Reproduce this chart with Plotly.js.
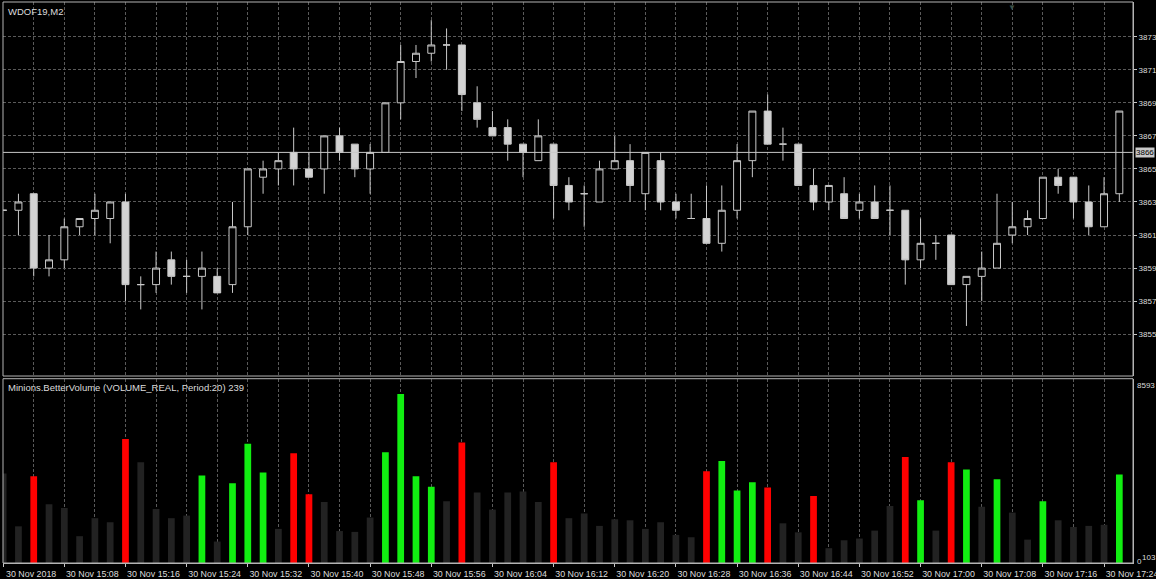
<!DOCTYPE html>
<html><head><meta charset="utf-8">
<script src="https://cdn.plot.ly/plotly-3.0.1.min.js"></script>
<style>html,body{margin:0;padding:0;background:#000;}#chart{width:1156px;height:579px;}</style>
</head><body><div id="chart"></div>
<script>
const symbolTitle = 'WDOF19,M2';
const indicatorTitle = 'Minions.BetterVolume (VOLUME_REAL, Period:20) 239';

const openP = [3862.5,3862.5,3863.5,3859,3859.5,3861.5,3862,3862,3863,3858,
 3858,3859.5,3858.5,3858.5,3858.5,3858,3861.5,3864.5,3865,3866,
 3865,3865,3867,3866.5,3865,3866,3869,3871.5,3872,3872.5,
 3872.5,3869,3867.5,3867.5,3866.5,3865.5,3866.5,3864,3863.5,3863,
 3865,3865.5,3863.5,3865.5,3863,3862,3862,3860.5,3862.5,3865.5,
 3868.5,3866.5,3866.5,3864,3863,3863.5,3862.5,3863,3862.5,3862.5,
 3859.5,3860.5,3861,3858,3858.5,3859,3861,3861.5,3862,3864.5,
 3864.5,3863,3861.5,3863.5];
const highP = [3862.5,3863.5,3863.5,3861,3862,3862,3863.5,3863,3863.5,3858.5,
 3860,3860,3859.5,3860,3859,3863,3865,3865.5,3866,3867.5,
 3866,3867,3867.5,3866.5,3866.5,3869,3872.5,3872.5,3874,3873.5,
 3872.5,3870,3868.5,3868,3866.5,3868,3866.5,3864.5,3864,3865.5,
 3867,3866.5,3866,3866,3863.5,3863.5,3864,3864,3866.5,3868.5,
 3869.5,3867.5,3866.5,3865,3864,3864.5,3863.5,3864,3864,3862.5,
 3862,3861,3861,3858.5,3860,3863.5,3863,3862.5,3864.5,3865,
 3864.5,3864,3864.5,3868.5];
const lowP = [3862.5,3861,3858.5,3858.5,3859,3861,3861,3860.5,3857,3856.5,
 3857.5,3858,3857.5,3856.5,3857.5,3857.5,3861,3863.5,3864,3864,
 3864.5,3863.5,3865.5,3864.5,3863.5,3866,3868,3870.5,3871.5,3871,
 3868.5,3867.5,3867,3865.5,3864.5,3865.5,3862,3862.5,3861.5,3863,
 3865,3863,3862.5,3862.5,3862,3862,3860.5,3860,3862,3864.5,
 3866.5,3865.5,3864,3862.5,3862.5,3862,3862,3862,3861,3858,
 3859,3859.5,3858,3855.5,3857,3859,3860.5,3861,3862,3863.5,
 3862,3861,3861.5,3863];
const closeP = [3862.5,3863,3859,3859.5,3861.5,3862,3862.5,3863,3858,3858,
 3859,3858.5,3858.5,3859,3857.5,3861.5,3865,3865,3865.5,3865,
 3864.5,3867,3866,3865,3866,3869,3871.5,3872,3872.5,3872.5,
 3869.5,3868,3867,3866.5,3866,3867,3864,3863,3863.5,3865,
 3865.5,3864,3866,3863,3862.5,3862,3860.5,3862.5,3865.5,3868.5,
 3866.5,3866.5,3864,3863,3864,3862,3863,3862,3862.5,3859.5,
 3860.5,3860.5,3858,3858.5,3859,3860.5,3861.5,3862,3864.5,3864,
 3863,3861.5,3863.5,3868.5];

const volume = [4170,1710,4050,2740,2570,1250,2090,1900,5780,4700,
 2520,2090,2210,4080,1000,3720,5560,4220,1590,5120,
 3210,2840,1490,1450,2120,5160,7880,4050,3550,2880,
 5620,3290,2490,3290,3330,2840,4700,2090,2310,1730,
 2040,1990,1590,1900,1310,1200,4280,4760,3380,3770,
 3520,1850,1430,3120,690,1060,1140,1510,2660,4940,
 2930,1510,4700,4360,2620,3910,2350,1090,2880,1990,
 1680,1730,1780,4130];
// n = neutral, r = red, g = green
const volumeClass = ['n','n','r','n','n','n','n','n','r','n',
 'n','n','n','g','n','g','g','g','n','r',
 'r','n','n','n','n','g','g','g','g','n',
 'r','n','n','n','n','n','r','n','n','n',
 'n','n','n','n','n','n','r','g','g','g',
 'r','n','n','r','n','n','n','n','n','r',
 'g','n','r','g','n','g','n','n','g','n',
 'n','n','n','g'];

const timeTickIdx = [0,4,8,12,16,20,24,28,32,36,40,44,48,52,56,60,64,68,72];
const timeTickLabels = ['30 Nov 2018','30 Nov 15:08','30 Nov 15:16','30 Nov 15:24','30 Nov 15:32',
 '30 Nov 15:40','30 Nov 15:48','30 Nov 15:56','30 Nov 16:04','30 Nov 16:12','30 Nov 16:20',
 '30 Nov 16:28','30 Nov 16:36','30 Nov 16:44','30 Nov 16:52','30 Nov 17:00','30 Nov 17:08',
 '30 Nov 17:16','30 Nov 17:24'];
const priceTicks = [3855,3857,3859,3861,3863,3865,3867,3869,3871,3873];
const bidPrice = 3866;
const volumeMax = 8593;
const volumeMinLabel = '103';

const classColor = {n:'#222222', r:'#ff0000', g:'#11ee11'};
const idx = openP.map((_, i) => i);
const gridC = '#5a5a5a';
const lineC = '#b4b4b4';
const textC = '#dcdcdc';
const axisFont = 8;

const traces = [
  {type:'candlestick', x:idx, open:openP, high:highP, low:lowP, close:closeP,
   xaxis:'x', yaxis:'y', whiskerwidth:0, hoverinfo:'skip',
   increasing:{line:{color:'#c8c8c8', width:1}, fillcolor:'#000000'},
   decreasing:{line:{color:'#c8c8c8', width:1}, fillcolor:'#d3d3d3'}},
  {type:'bar', x:idx, y:volume, xaxis:'x', yaxis:'y2', hoverinfo:'skip',
   marker:{color:volumeClass.map(c => classColor[c]), line:{width:0}}}
];

const topBottom = 0.3333, botTop = 0.3285;
const layout = {
  width:1156, height:579, paper_bgcolor:'#000', plot_bgcolor:'#000',
  margin:{l:3, r:23, t:2, b:16, pad:0},
  showlegend:false, boxgap:0.35, bargap:0.56,
  font:{family:'Liberation Sans, Arial, sans-serif', size:9.5, color:textC},
  xaxis:{range:[-0.01, 73.894], anchor:'y2', tickmode:'array', tickvals:timeTickIdx, ticktext:timeTickLabels,
    ticks:'outside', ticklen:3, tickcolor:'#c8c8c8', ticklabelshift:28, ticklabelstandoff:-1, ticklabeloverflow:'allow',
    showgrid:true, gridcolor:gridC, griddash:'3px,2px', gridwidth:1,
    minor:{tick0:0, dtick:2, showgrid:true, gridcolor:gridC, griddash:'3px,2px', gridwidth:1, ticks:''},
    zeroline:false, showline:true, linecolor:lineC, rangeslider:{visible:false}, fixedrange:true,
    tickfont:{size:8.9, color:textC}},
  yaxis:{domain:[topBottom, 1], side:'right', anchor:'x', range:[3852.47, 3875.1], tickmode:'array',
    tickvals:priceTicks, ticktext:priceTicks.map(String), ticks:'outside', ticklen:3, tickcolor:'#c8c8c8',
    ticklabelstandoff:0,
    showgrid:true, gridcolor:gridC, griddash:'3px,2px', gridwidth:1, zeroline:false, showline:true,
    linecolor:lineC, ticklabeloverflow:'allow', tickfont:{size:axisFont, color:textC}, fixedrange:true},
  yaxis2:{domain:[0, botTop], side:'right', anchor:'x', range:[0, volumeMax], showticklabels:false,
    ticks:'', showgrid:false, zeroline:false, showline:true, linecolor:lineC, fixedrange:true},
  shapes:[
    {type:'line', xref:'paper', x0:0, x1:1, yref:'y', y0:bidPrice, y1:bidPrice,
     line:{color:'#c8c8c8', width:1}, layer:'above'},
    {type:'rect', xref:'paper', x0:0, x1:1, yref:'paper', y0:topBottom, y1:1,
     line:{color:lineC, width:1}, fillcolor:'rgba(0,0,0,0)', layer:'above'},
    {type:'rect', xref:'paper', x0:0, x1:1, yref:'paper', y0:0, y1:botTop,
     line:{color:lineC, width:1}, fillcolor:'rgba(0,0,0,0)', layer:'above'}
  ],
  annotations:[
    {text:symbolTitle, xref:'paper', x:0, xanchor:'left', xshift:3, yref:'paper', y:1, yanchor:'top', yshift:-2,
     showarrow:false, font:{size:9.5, color:textC}},
    {text:indicatorTitle, xref:'paper', x:0, xanchor:'left', xshift:3, yref:'paper', y:botTop, yanchor:'top', yshift:-1,
     showarrow:false, font:{size:9.5, color:textC}},
    {text:String(bidPrice), xref:'paper', x:1, xanchor:'left', xshift:2, yref:'y', y:bidPrice, yanchor:'middle',
     showarrow:false, bgcolor:'#c8c8c8', borderpad:0, font:{size:axisFont, color:'#000'}},
    {text:String(volumeMax), xref:'paper', x:1, xanchor:'left', xshift:2, yref:'y2', y:volumeMax, yanchor:'top',
     showarrow:false, font:{size:axisFont, color:textC}},
    {text:'0', xref:'paper', x:1, xanchor:'left', xshift:2, yref:'y2', y:0, yanchor:'bottom', yshift:-5,
     showarrow:false, font:{size:axisFont, color:textC}},
    {text:volumeMinLabel, xref:'paper', x:1, xanchor:'left', xshift:7, yref:'y2', y:0, yanchor:'bottom', yshift:-1,
     showarrow:false, font:{size:axisFont, color:textC}},
    {text:'▼', xref:'x', x:66, xanchor:'center', yref:'paper', y:1, yanchor:'top', yshift:1,
     showarrow:false, font:{size:8, color:'#3c5046'}}
  ]
};

Plotly.newPlot('chart', traces, layout, {displayModeBar:false, staticPlot:true});
</script>
</body></html>
